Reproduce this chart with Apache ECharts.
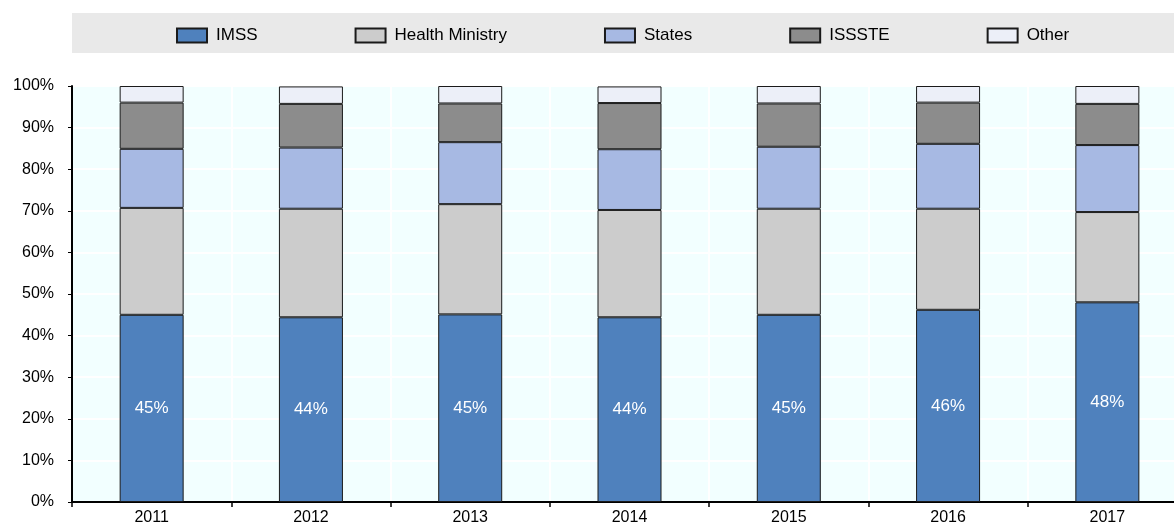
<!DOCTYPE html>
<html>
<head>
    <meta charset="utf-8">
    <title>Health spending by institution</title>
    <script type="text/javascript" src="https://cdn.jsdelivr.net/npm/echarts@6/dist/echarts.min.js"></script>
    <style>
        html, body { margin: 0; padding: 0; background: #fff; overflow: hidden; }
    </style>
</head>
<body>
    <!-- plot runs past the right edge of the window, as in the original -->
    <div id="main" style="width: 1187px;height:526px;"></div>
    <script type="text/javascript">
        // data (percent of total)
        var years = ['2011', '2012', '2013', '2014', '2015', '2016', '2017'];
        var imss = [45.0, 44.4, 45.1, 44.4, 45.0, 46.2, 48.0];
        var healthMinistry = [25.7, 26.1, 26.5, 25.8, 25.5, 24.3, 21.7];
        var states = [14.2, 14.7, 14.9, 14.6, 14.9, 15.6, 16.1];
        var issste = [11.1, 10.5, 9.3, 11.1, 10.4, 9.9, 9.9];
        var other = [4.0, 4.2, 4.2, 4.0, 4.2, 4.0, 4.3];

        var font = '"Liberation Sans", Arial, sans-serif';
        var myChart = echarts.init(document.getElementById('main'));

        function barSeries(name, data, color, withLabel) {
            var s = {
                name: name,
                type: 'bar',
                stack: 'total',
                barWidth: 64,
                data: data,
                itemStyle: { color: color, borderColor: '#1a1a1a', borderWidth: 1 }
            };
            if (withLabel) {
                s.label = {
                    show: true,
                    position: 'inside',
                    color: '#fff',
                    fontSize: 17,
                    fontFamily: font,
                    formatter: function (p) { return Math.round(p.value) + '%'; }
                };
            }
            return s;
        }

        var option = {
            animation: false,
            graphic: [{
                type: 'rect',
                z: -1,
                shape: { x: 72, y: 13, width: 1115, height: 40 },
                style: { fill: '#e9e9e9' }
            }],
            legend: {
                left: 171,
                top: 22,
                icon: 'rect',
                itemWidth: 30,
                itemHeight: 14,
                itemGap: 97,
                textStyle: { fontSize: 17, fontFamily: font, color: '#000', padding: [0, 0, 0, 4] },
                data: ['IMSS', 'Health Ministry', 'States', 'ISSSTE', 'Other']
            },
            grid: {
                left: 72,
                top: 86,
                bottom: 24,
                right: 0,
                show: true,
                backgroundColor: '#f2ffff',
                borderColor: '#000',
                borderWidth: 1
            },
            xAxis: {
                type: 'category',
                data: years,
                axisLine: { lineStyle: { color: '#000', width: 2 } },
                axisTick: { show: true, length: 5, lineStyle: { color: '#000', width: 1.5 } },
                axisLabel: { fontSize: 16, fontFamily: font, color: '#000', margin: 8 },
                splitLine: { show: true, lineStyle: { color: '#ffffff', width: 2 } }
            },
            yAxis: {
                type: 'value',
                min: 0,
                max: 100,
                interval: 10,
                axisLine: { show: true, lineStyle: { color: '#000', width: 2 } },
                axisTick: { show: true, length: 4, lineStyle: { color: '#000' } },
                axisLabel: { fontSize: 16, fontFamily: font, color: '#000', margin: 18, formatter: '{value}%' },
                splitLine: { show: true, lineStyle: { color: '#ffffff', width: 2 } }
            },
            series: [
                barSeries('IMSS', imss, '#4f81bd', true),
                barSeries('Health Ministry', healthMinistry, '#cccccc'),
                barSeries('States', states, '#a7b9e3'),
                barSeries('ISSSTE', issste, '#8c8c8c'),
                barSeries('Other', other, '#eceff8')
            ]
        };

        myChart.setOption(option);
    </script>
</body>
</html>
